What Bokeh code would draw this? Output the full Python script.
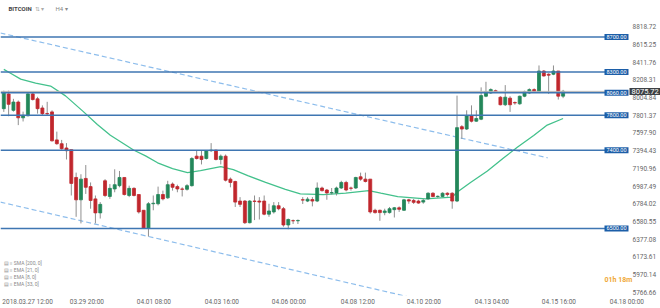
from bokeh.plotting import figure
from bokeh.models import (Range1d, LinearAxis, FixedTicker, Span, Label,
                          ColumnDataSource)
from bokeh.embed import file_html
from bokeh.resources import INLINE

# ---- data (H4 candles) ----
opens = [7877, 8046, 7858, 7953, 7772, 7795, 8047, 7990, 7885, 7822,
         7840, 7518, 7474, 7425, 7406, 7086, 6829, 7075, 6981, 6840,
         6679, 7048, 6868, 6954, 6992, 7086, 6879, 6961, 6890, 6709,
         6501, 6784, 6784, 6890, 6852, 7010, 6981, 6954, 6950, 6992,
         7331, 7331, 7304, 7394, 7400, 7293, 7331, 7067, 7040, 6815,
         6815, 6566, 6815, 6815, 6815, 6664, 6690, 6761, 6727, 6540,
         6590, 6588, 6830, 6815, 6832, 6815, 6965, 6942, 6909, 6909,
         6965, 7029, 6965, 6965, 7094, 7067, 7067, 6709, 6709, 6682,
         6682, 6716, 6738, 6709, 6829, 6822, 6815, 6803, 6840, 6905,
         6867, 6867, 6905, 6905, 6815, 7670, 7643, 7794, 7733, 7756,
         8020, 8058, 8084, 8009, 7922, 7998, 7947, 7933, 8020, 8058,
         8096, 8073, 8310, 8273, 8273, 8310, 8021]
highs = [8084, 8084, 7990, 7971, 7843, 8058, 8058, 8013, 7915, 7956,
         7858, 7613, 7518, 7481, 7406, 7142, 7123, 7229, 7029, 6879,
         6803, 7067, 7010, 7180, 7161, 7086, 6992, 6973, 6890, 6709,
         6803, 6879, 6981, 6935, 7048, 7029, 7003, 6973, 7010, 7320,
         7394, 7394, 7400, 7481, 7405, 7350, 7350, 7086, 7048, 6860,
         6826, 6826, 6879, 6860, 6879, 6784, 6803, 6803, 6747, 6614,
         6603, 6603, 6860, 6860, 6860, 7029, 6981, 6954, 6965, 6981,
         7048, 7048, 6981, 7094, 7142, 7142, 7067, 6727, 6716, 6727,
         6747, 6747, 6754, 6840, 6840, 6840, 6830, 6840, 6916, 6916,
         6879, 6916, 6916, 6916, 8027, 7688, 7858, 7915, 7858, 8122,
         8186, 8111, 8096, 8020, 8148, 8020, 7960, 8027, 8084, 8111,
         8111, 8374, 8321, 8284, 8374, 8310, 8093]
lows = [7840, 7790, 7843, 7688, 7730, 7790, 7971, 7820, 7800, 7803,
        7500, 7462, 7406, 7293, 6879, 6634, 6558, 6897, 6727, 6558,
        6614, 6860, 6840, 6916, 6973, 6879, 6860, 6868, 6671, 6498,
        6408, 6709, 6765, 6822, 6840, 6935, 6916, 6868, 6935, 6981,
        7293, 7236, 7293, 7380, 7282, 7236, 7040, 6973, 6747, 6747,
        6551, 6558, 6596, 6603, 6652, 6634, 6671, 6709, 6520, 6491,
        6551, 6551, 6781, 6803, 6754, 6803, 6924, 6830, 6890, 6879,
        6954, 6927, 6935, 6954, 7048, 7029, 6671, 6671, 6588, 6652,
        6671, 6626, 6690, 6701, 6784, 6781, 6784, 6784, 6830, 6860,
        6852, 6860, 6867, 6727, 6803, 7530, 7632, 7719, 7726, 7745,
        8009, 8047, 8058, 7915, 7907, 7840, 7922, 7922, 8009, 8047,
        8066, 8066, 8246, 8047, 8262, 7982, 7998]
closes = [8066, 7927, 7953, 7772, 7801, 8047, 7982, 7877, 7820, 7818,
          7507, 7474, 7417, 7394, 7018, 6829, 7067, 6973, 6822, 6679,
          6777, 6879, 6961, 7003, 7086, 6890, 6961, 6879, 6690, 6501,
          6784, 6790, 6890, 6840, 7003, 6973, 6954, 6950, 6992, 7304,
          7304, 7293, 7394, 7400, 7293, 7331, 7055, 7029, 6803, 6777,
          6566, 6815, 6811, 6803, 6664, 6701, 6761, 6727, 6540, 6603,
          6588, 6592, 6826, 6837, 6815, 6965, 6935, 6909, 6912, 6965,
          7029, 6942, 6962, 7086, 7067, 7040, 6690, 6682, 6682, 6701,
          6727, 6738, 6720, 6829, 6815, 6800, 6792, 6822, 6905, 6867,
          6870, 6905, 6890, 6815, 7659, 7643, 7794, 7733, 7764, 8027,
          8073, 8096, 8066, 7922, 8009, 7922, 7943, 8020, 8073, 8096,
          8073, 8310, 8253, 8262, 8310, 8021, 8076]

# EMA indicator line, read as points (candle index, price)
ema_idx = [0, 1.4, 3.5, 6.6, 9.7, 12.8, 16.5, 19.4, 22.1, 26.9, 29.4, 31.9,
           35, 38.1, 40.8, 45, 47.6, 50.6, 54.3, 58.4, 61.5, 66.3, 70.9,
           75.7, 78.2, 81.7, 87.5, 93, 94, 96.8, 100.3, 103.7, 106.5,
           109.9, 112.7, 116]
ema_val = [8329, 8284, 8216, 8171, 8137, 8024, 7843, 7696, 7572, 7402, 7334,
           7255, 7188, 7142, 7165, 7210, 7176, 7108, 7029, 6950, 6897, 6890,
           6905, 6935, 6905, 6867, 6840, 6860, 6916, 7029, 7161, 7312, 7433,
           7569, 7689, 7764]

# horizontal levels and trend channel
levels = [8700, 8300, 8060, 7800, 7400, 6500]
last_price = 8075.72
chan_upper_idx = [-0.7, 112.8]
chan_upper_val = [8747, 7312]
chan_lower_idx = [-0.7, 92.0]
chan_lower_val = [6803, 5610]

# price scale labels and time axis ticks
y_ticks = [8818.72, 8615.25, 8411.76, 8208.31, 8004.84, 7801.37, 7597.90,
           7394.43, 7190.96, 6987.49, 6784.02, 6580.55, 6377.08, 6173.61,
           5970.14, 5766.66]
x_tick_pos = [5.1, 17.4, 31.3, 45.4, 59.3, 73.6, 87.3, 101.4, 115.3, 129.4]
x_tick_labels = ["2018.03.27  12:00", "03.29  20:00", "04.01  08:00",
                 "04.03  16:00", "04.06  00:00", "04.08  12:00",
                 "04.10  20:00", "04.13  04:00", "04.15  16:00",
                 "04.18  00:00"]
legend_rows = ["SMA [200, 0]", "EMA [21, 0]", "EMA [8, 0]", "EMA [33, 0]"]

# ---- styles ----
FONT = "Roboto"
UP = "#23875a"
DOWN = "#c0272d"
WICK = "#8f8f8f"
LEVEL = "#3f76b2"
LEVEL_BOX = "#1c5ea8"
CHANNEL = "#8dbdec"
EMA_C = "#43c18c"
AXIS_TXT = "#666666"

idx = list(range(len(opens)))
src = ColumnDataSource(dict(
    x=idx,
    top=[max(o, c) for o, c in zip(opens, closes)],
    bottom=[min(o, c) for o, c in zip(opens, closes)],
    high=highs, low=lows,
    color=[UP if c >= o else DOWN for o, c in zip(opens, closes)],
))

p = figure(width=660, height=308, output_backend="svg", toolbar_location=None,
           x_range=Range1d(-0.685, 136.2), y_range=Range1d(5729.3, 9120.5),
           x_axis_location=None, y_axis_location=None, min_border=0)
p.grid.visible = False
p.outline_line_color = None
p.background_fill_color = "white"
p.border_fill_color = "white"

# level lines
for lv in levels:
    p.add_layout(Span(location=lv, dimension="width", line_color=LEVEL,
                      line_width=1.5))
p.add_layout(Span(location=last_price, dimension="width",
                  line_color="#b4b4b4", line_width=1))

# white column behind the price scale (lines stop at the label boxes)
p.add_layout(Label(x=645, y=150, x_units="screen", y_units="screen", text=" ",
                   text_font_size="1px", text_baseline="middle",
                   text_align="center", background_fill_color="white",
                   padding=(18, 160)))

# channel
p.line(chan_upper_idx, chan_upper_val, line_color=CHANNEL, line_width=1.2,
       line_dash="5 3")
p.line(chan_lower_idx, chan_lower_val, line_color=CHANNEL, line_width=1.2,
       line_dash="5 3")

# EMA
p.line(ema_idx, ema_val, line_color=EMA_C, line_width=1.3)

# candles
p.segment(x0="x", x1="x", y0="low", y1="high", source=src, line_color=WICK,
          line_width=1)
p.vbar(x="x", width=0.62, top="top", bottom="bottom", source=src,
       fill_color="color", line_color="color", line_width=0.8)

# price scale labels
for t in y_ticks:
    p.add_layout(Label(x=632, y=t, x_units="screen", y_units="data",
                       text=f"{t:.2f}", text_font=FONT,
                       text_font_size="6.5px", text_color=AXIS_TXT,
                       text_baseline="middle"))

# level boxes
for lv in levels:
    p.add_layout(Label(x=604, y=lv, x_units="screen", y_units="data",
                       text=f"{lv:.2f}", text_font=FONT, text_font_size="5.5px",
                       text_color="white", text_baseline="middle",
                       background_fill_color=LEVEL_BOX, padding=(2, 1)))

# current price box
p.add_layout(Label(x=629, y=last_price, x_units="screen", y_units="data",
                   text=f"{last_price:.2f}", text_font=FONT,
                   text_font_size="7.5px", text_color="white",
                   text_baseline="middle", background_fill_color="#3d4145",
                   padding=(2, 1), level="overlay"))

# title
p.add_layout(Label(x=8, y=284, x_units="screen", y_units="screen",
                   text="BITCOIN", text_font=FONT, text_font_size="6px",
                   text_font_style="bold", text_color="#444444"))
p.add_layout(Label(x=34, y=284, x_units="screen", y_units="screen",
                   text="⇅  ▾", text_font=FONT, text_font_size="6px",
                   text_color="#aaaaaa"))
p.add_layout(Label(x=55, y=284, x_units="screen", y_units="screen",
                   text="H4  ▾", text_font=FONT, text_font_size="6px",
                   text_color="#888888"))

# legend rows
for k, row in enumerate(legend_rows):
    p.add_layout(Label(x=3, y=30 - 7 * k, x_units="screen", y_units="screen",
                       text="▤ ≡ " + row, text_font=FONT,
                       text_font_size="5px", text_color="#8a8a8a"))

# countdown
p.add_layout(Label(x=604, y=12, x_units="screen", y_units="screen",
                   text="01h 18m", text_font=FONT, text_font_size="7px",
                   text_font_style="bold", text_color="#f0a835"))

# time axis
ax_b = LinearAxis(ticker=FixedTicker(ticks=x_tick_pos),
                  major_label_overrides=dict(zip(x_tick_pos, x_tick_labels)))
ax_b.axis_line_color = None
ax_b.major_tick_line_color = None
ax_b.minor_tick_line_color = None
ax_b.major_tick_out = 0
ax_b.major_label_standoff = 2
ax_b.major_label_text_font = FONT
ax_b.major_label_text_font_size = "6.5px"
ax_b.major_label_text_color = AXIS_TXT
p.add_layout(ax_b, "below")

open("out.html", "w").write(file_html(p, INLINE))
